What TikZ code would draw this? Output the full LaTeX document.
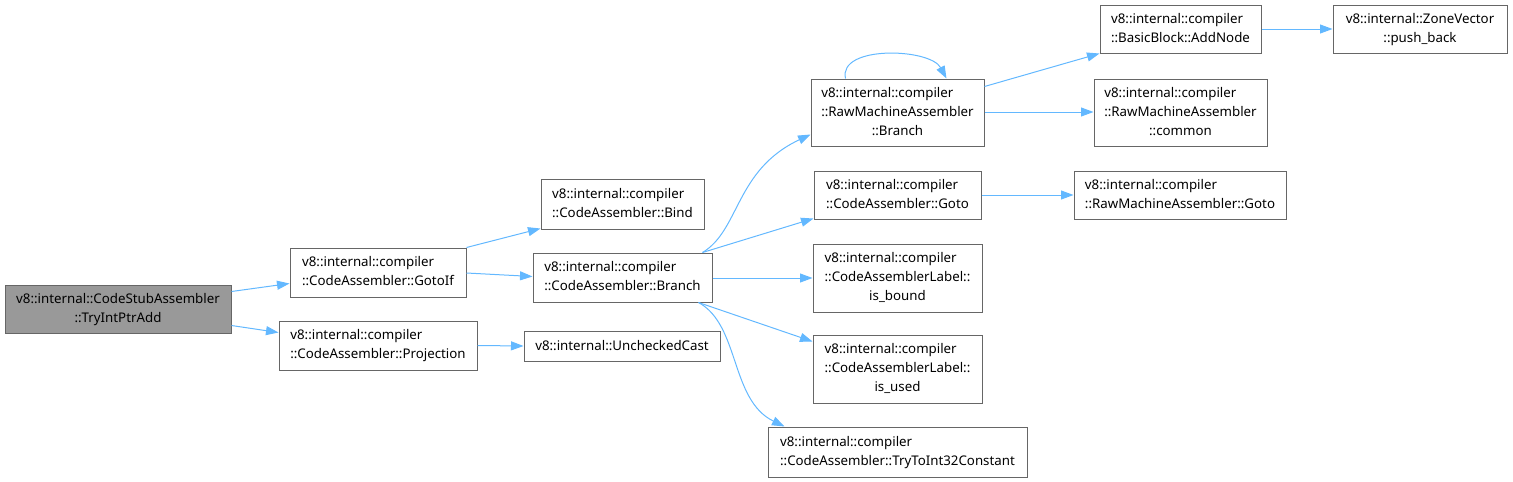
\documentclass[tikz,border=0pt]{standalone}
\usepackage{fontspec}
\setmainfont{Noto Sans}
\usetikzlibrary{arrows.meta,calc}
\definecolor{edgeblue}{HTML}{63B8FF}
\definecolor{boxgrey}{HTML}{666666}
\definecolor{fillgrey}{HTML}{999999}
\newcommand{\tlines}[1]{\begin{tabular}{@{}l@{}}#1\end{tabular}}
\newcommand{\lastc}[1]{\multicolumn{1}{@{}c@{}}{#1}}
\begin{document}
\begin{tikzpicture}[x=1pt,y=-1pt,
  box/.style={draw=boxgrey, line width=1pt, fill=white, inner sep=0pt,
    font=\fontsize{13.3}{19}\selectfont, text=black},
  hl/.style={box, fill=fillgrey},
  edge/.style={draw=edgeblue, line width=1pt, -{Triangle[length=12.5pt,width=9pt]}}]
\useasboundingbox (0,0) rectangle (1513,482);

\node[hl, minimum width=226pt, minimum height=48pt] (A) at (118,309)
  {\tlines{v8::internal::CodeStubAssembler\\\lastc{::TryIntPtrAdd}}};
\node[box, minimum width=176pt, minimum height=49pt] (B) at (378,272.5)
  {\tlines{v8::internal::compiler\\\lastc{::CodeAssembler::GotoIf}}};
\node[box, minimum width=198pt, minimum height=49pt] (C) at (378,345.5)
  {\tlines{v8::internal::compiler\\\lastc{::CodeAssembler::Projection}}};
\node[box, minimum width=163pt, minimum height=50pt] (D) at (622.5,204)
  {\tlines{v8::internal::compiler\\\lastc{::CodeAssembler::Bind}}};
\node[box, minimum width=179pt, minimum height=49pt] (E) at (622.5,277.5)
  {\tlines{v8::internal::compiler\\\lastc{::CodeAssembler::Branch}}};
\node[box, minimum width=196pt, minimum height=30pt] (F) at (622,346)
  {v8::internal::UncheckedCast};
\node[box, minimum width=173pt, minimum height=67pt] (G) at (897.5,112.5)
  {\tlines{v8::internal::compiler\\::RawMachineAssembler\\\lastc{::Branch}}};
\node[box, minimum width=161pt, minimum height=48pt] (H) at (1180.5,29)
  {\tlines{v8::internal::compiler\\\lastc{::BasicBlock::AddNode}}};
\node[box, minimum width=173pt, minimum height=67pt] (I) at (1180.5,112.5)
  {\tlines{v8::internal::compiler\\::RawMachineAssembler\\\lastc{::common}}};
\node[box, minimum width=174pt, minimum height=48pt] (J) at (1420,29)
  {\tlines{v8::internal::ZoneVector\\\lastc{::push\_back}}};
\node[box, minimum width=167pt, minimum height=48pt] (K) at (897.5,195)
  {\tlines{v8::internal::compiler\\\lastc{::CodeAssembler::Goto}}};
\node[box, minimum width=212pt, minimum height=48pt] (L) at (1180,195)
  {\tlines{v8::internal::compiler\\\lastc{::RawMachineAssembler::Goto}}};
\node[box, minimum width=169pt, minimum height=68pt] (M) at (897.5,278)
  {\tlines{v8::internal::compiler\\::CodeAssemblerLabel::\\\lastc{is\_bound}}};
\node[box, minimum width=169pt, minimum height=68pt] (N) at (897.5,369)
  {\tlines{v8::internal::compiler\\::CodeAssemblerLabel::\\\lastc{is\_used}}};
\node[box, minimum width=259pt, minimum height=50pt] (O) at (897.5,452)
  {\tlines{v8::internal::compiler\\\lastc{::CodeAssembler::TryToInt32Constant}}};

% edges
\draw[edge] ($(A.north east)+(0,7)$) -- ($(B.west)+(0,11)$);
\draw[edge] ($(A.south east)+(0,-8)$) -- ($(C.north west)+(0,12)$);
\draw[edge] (B.north east) -- ($(D.south west)+(0,-1)$);
\draw[edge] ($(B.east)+(0,0.5)$) -- ($(E.west)+(0,-1)$);
\draw[edge] (C.east) -- (F.west);
\draw[edge] ($(E.north east)+(-10,0)$) .. controls (740,230) and (735,170) .. ($(G.south west)+(0,-12)$);
\draw[edge] ($(E.north east)+(-10,0)$) -- ($(K.south west)+(0,-1)$);
\draw[edge] ($(E.east)+(0,0.5)$) -- (M.west);
\draw[edge] ($(E.south east)+(-14,0)$) -- ($(N.north west)+(0,7)$);
\draw[edge] ($(E.south east)+(-14,0)$) .. controls (740,325) and (730,400) .. ($(O.north west)+(17,0)$);
\draw[edge] ($(G.north east)+(0,8)$) -- ($(H.south west)+(0,0)$);
\draw[edge] ($(G.east)+(0,-0.5)$) -- ($(I.west)+(0,-0.5)$);
\draw[edge] ($(G.north west)+(35,0)$) .. controls (838,45) and (930,48) .. ($(G.north west)+(136,0)$);
\draw[edge] (H.east) -- (J.west);
\draw[edge] (K.east) -- (L.west);
\end{tikzpicture}
\end{document}
